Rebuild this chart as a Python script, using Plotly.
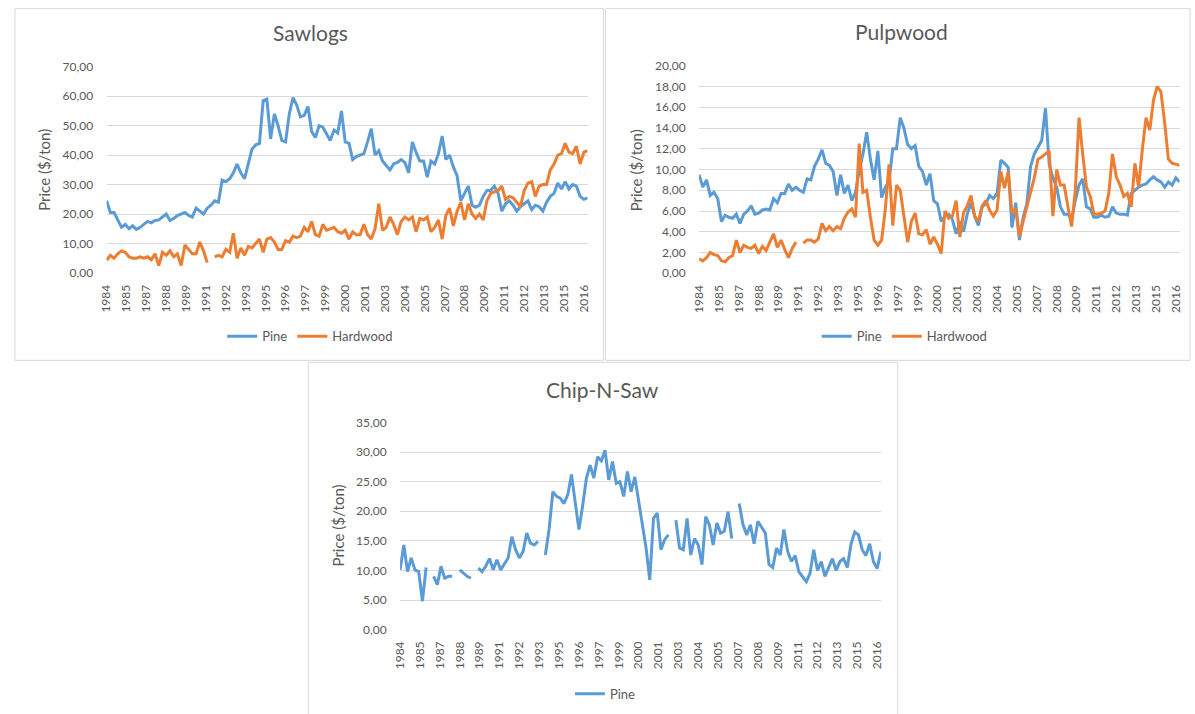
import plotly.graph_objects as go
import pandas as pd

# ---------------- data (quarterly readings, $/ton) ----------------
START = "1984-06-01"
N_PERIODS = 130
TICK_LABELS = ["1984", "1985", "1987", "1988", "1989", "1991", "1992", "1993", "1995",
               "1996", "1997", "1999", "2000", "2001", "2003", "2004", "2005", "2007",
               "2008", "2009", "2011", "2012", "2013", "2015", "2016"]

SAW_PINE = [24.5, 20.5, 20.5, 18.0, 15.5, 16.5, 15.0, 16.0, 14.8, 15.5,
            16.5, 17.5, 17.0, 17.8, 18.0, 19.0, 20.0, 17.8, 18.5, 19.5,
            20.0, 20.5, 19.5, 19.0, 22.0, 21.0, 20.0, 22.0, 23.0, 24.5,
            24.0, 31.5, 31.0, 32.0, 34.0, 37.0, 34.0, 32.0, 37.0, 42.0,
            43.5, 44.0, 58.5, 59.0, 45.5, 54.0, 50.0, 45.0, 44.5, 54.0,
            59.5, 57.0, 53.0, 53.5, 56.5, 48.0, 46.0, 50.0, 49.5, 47.0,
            45.0, 48.5, 47.5, 55.0, 44.5, 44.0, 38.5, 39.5, 40.0, 40.5,
            44.5, 49.0, 40.0, 41.5, 38.0, 36.5, 35.0, 37.0, 37.5, 38.5,
            37.5, 34.0, 44.5, 41.0, 38.0, 38.0, 32.5, 38.0, 37.0, 40.5,
            46.5, 38.5, 40.0, 36.0, 33.0, 24.5, 27.0, 29.5, 23.0, 22.3,
            23.0, 26.0, 28.0, 28.0, 29.5, 27.0, 21.0, 23.5, 24.5, 23.0,
            21.0, 22.5, 23.5, 24.5, 21.5, 23.0, 22.5, 21.0, 24.0, 26.0,
            27.0, 30.5, 28.5, 31.0, 28.5, 30.0, 29.5, 26.0, 25.0, 25.5]

SAW_HARD = [4.3, 6.0, 5.0, 6.5, 7.5, 7.0, 5.5, 5.0, 5.0, 5.5,
            5.0, 5.5, 4.5, 6.5, 2.5, 7.0, 6.0, 7.5, 5.5, 6.5,
            2.5, 9.5, 8.0, 6.5, 6.5, 10.5, 7.5, 3.5, None, 5.5,
            6.0, 5.5, 8.0, 7.0, 13.5, 5.0, 8.5, 6.0, 9.0, 8.5,
            10.0, 11.5, 7.0, 11.5, 12.0, 10.5, 8.0, 8.0, 11.0, 10.5,
            12.5, 12.0, 12.5, 15.5, 14.0, 17.5, 13.0, 12.5, 16.5, 14.5,
            15.0, 15.5, 14.0, 13.5, 14.5, 11.5, 14.0, 13.0, 13.0, 16.5,
            13.0, 11.5, 15.0, 23.5, 14.5, 15.5, 19.0, 16.5, 13.0, 17.5,
            19.0, 18.0, 19.0, 14.0, 18.5, 18.0, 19.0, 14.0, 15.5, 18.0,
            11.5, 19.5, 22.0, 16.0, 21.0, 24.0, 18.0, 23.5, 20.0, 18.5,
            20.0, 18.0, 24.5, 27.0, 27.5, 28.0, 29.5, 25.0, 26.0, 25.5,
            24.0, 22.5, 28.0, 30.5, 31.0, 26.0, 29.5, 30.0, 30.0, 35.0,
            37.0, 40.0, 40.5, 44.0, 41.0, 40.5, 43.0, 37.0, 41.0, 41.5]

PULP_PINE = [9.5, 8.3, 9.0, 7.5, 7.8, 7.2, 5.0, 5.6, 5.4, 5.3,
             5.7, 4.8, 5.7, 6.0, 6.5, 5.7, 5.8, 6.1, 6.2, 6.1,
             7.2, 6.8, 7.7, 7.7, 8.6, 8.0, 8.3, 8.0, 7.8, 9.1,
             9.0, 10.3, 11.0, 11.9, 10.6, 10.4, 9.8, 7.5, 9.5, 7.7,
             8.5, 7.0, 7.8, 9.9, 11.5, 13.6, 11.0, 9.0, 11.8, 7.3,
             8.3, 8.8, 12.0, 12.0, 15.0, 14.0, 12.4, 12.0, 12.3, 10.3,
             9.8, 8.5, 9.6, 7.0, 6.7, 5.0, 5.5, 5.7, 5.2, 3.8,
             5.0, 4.0, 5.7, 6.8, 5.5, 4.6, 6.4, 6.7, 7.5, 7.2,
             7.7, 10.9, 10.6, 10.2, 4.4, 6.8, 3.2, 5.4, 6.7, 10.3,
             11.5, 12.2, 12.8, 15.9, 10.5, 9.2, 8.3, 6.4, 5.7, 5.7,
             5.2, 7.0, 8.5, 9.1, 6.4, 6.2, 5.4, 5.4, 5.6, 5.4,
             5.5, 6.4, 5.8, 5.7, 5.7, 5.6, 7.7, 8.0, 8.3, 8.5,
             8.6, 9.0, 9.3, 9.0, 8.8, 8.3, 8.8, 8.5, 9.2, 8.8]

PULP_HARD = [1.4, 1.2, 1.5, 2.0, 1.8, 1.7, 1.2, 1.1, 1.5, 1.7,
             3.2, 2.0, 2.7, 2.5, 2.4, 2.7, 1.9, 2.6, 2.2, 3.0,
             3.8, 2.5, 3.2, 2.3, 1.5, 2.4, 3.0, None, 2.9, 3.2,
             3.2, 3.0, 3.3, 4.8, 4.1, 4.5, 4.1, 4.5, 4.3, 5.3,
             5.9, 6.2, 5.4, 12.5, 7.8, 8.0, 5.4, 3.2, 2.7, 3.2,
             6.2, 10.5, 4.6, 8.5, 8.0, 5.5, 3.0, 5.0, 5.8, 3.8,
             3.7, 4.2, 2.8, 3.5, 2.8, 1.9, 6.0, 5.3, 5.5, 7.0,
             3.5, 5.8, 6.5, 7.5, 5.5, 5.0, 6.5, 7.0, 6.1, 5.5,
             6.1, 9.8, 8.2, 9.8, 5.8, 6.2, 3.5, 5.0, 6.5, 7.8,
             9.2, 11.0, 11.2, 11.5, 11.8, 5.5, 10.0, 8.5, 8.5, 6.5,
             4.5, 8.0, 15.0, 11.5, 8.3, 7.4, 5.7, 5.7, 5.8, 6.0,
             7.7, 11.5, 9.3, 8.5, 7.4, 7.7, 6.4, 10.6, 8.3, 11.9,
             15.0, 13.8, 16.7, 18.0, 17.5, 14.5, 11.0, 10.6, 10.5, 10.4]

CNS_PINE = [10.1, 14.3, 9.8, 12.1, 10.1, 9.8, 4.8, 10.5, None, 9.0,
            7.6, 10.7, 8.7, 9.0, 9.0, None, 10.1, 9.6, 9.0, 8.7,
            None, 10.4, 9.8, 10.7, 12.0, 10.1, 11.8, 10.1, 11.2, 12.1,
            15.7, 13.5, 12.1, 13.2, 16.3, 14.6, 14.3, 14.9, None, 12.6,
            17.0, 23.3, 22.5, 22.2, 21.3, 22.8, 26.2, 21.5, 16.9, 21.0,
            25.6, 27.8, 25.6, 29.2, 28.5, 30.3, 25.3, 28.4, 24.7, 25.0,
            22.5, 26.7, 23.3, 25.8, 21.9, 18.3, 13.8, 8.4, 18.8, 19.7,
            13.5, 15.2, 16.0, None, 18.5, 13.8, 13.5, 18.8, 12.6, 15.4,
            14.3, 11.0, 19.1, 17.7, 14.3, 18.0, 16.3, 16.6, 19.9, 15.4,
            None, 21.3, 17.8, 16.0, 17.7, 14.5, 18.3, 17.3, 16.3, 11.0,
            10.5, 13.8, 12.6, 16.9, 13.2, 11.5, 12.5, 9.8, 9.0, 8.1,
            9.5, 13.5, 10.0, 11.5, 9.0, 10.5, 12.0, 10.0, 11.5, 12.0,
            10.5, 14.5, 16.5, 16.0, 13.5, 12.5, 14.5, 11.5, 10.3, 13.2]

# ---------------- styling ----------------
W, H = 1195, 714
BLUE = "#5B9BD5"
ORANGE = "#ED7D31"
GRID = "#D9D9D9"
TXT = "#595959"
FONT = "Lato, Carlito, 'Liberation Sans', sans-serif"

# the captured page is mapped vertically as  shown_y = 8 + 0.978 * page_y
Y_OFF, Y_SCALE = 8.0, 0.978


def fx(x):
    return x / W


def fy(y):
    return 1 - ((y - Y_OFF) / Y_SCALE) / H


DATES = pd.date_range(START, periods=N_PERIODS, freq="3MS").strftime("%Y-%m-%d").tolist()
TICK_DATES = pd.date_range(START, periods=len(TICK_LABELS), freq="16MS").strftime("%Y-%m-%d").tolist()

fig = go.Figure()


def add_line(y, name, color, ax, leg):
    fig.add_trace(go.Scatter(
        x=DATES, y=y, name=name, mode="lines",
        line=dict(color=color, width=3),
        xaxis="x" + ax, yaxis="y" + ax, legend=leg,
        connectgaps=False, hoverinfo="skip"))


add_line(SAW_PINE, "Pine", BLUE, "", "legend")
add_line(SAW_HARD, "Hardwood", ORANGE, "", "legend")
add_line(PULP_PINE, "Pine", BLUE, "2", "legend2")
add_line(PULP_HARD, "Hardwood", ORANGE, "2", "legend2")
add_line(CNS_PINE, "Pine", BLUE, "3", "legend3")


def xaxis_cfg(x0, x1, anchor):
    return dict(domain=[fx(x0), fx(x1)], anchor=anchor, type="date",
                range=[DATES[0], DATES[-1]], tickmode="array",
                tickvals=TICK_DATES, ticktext=TICK_LABELS, tickangle=-90,
                showgrid=False, zeroline=False, showline=False,
                ticks="outside", ticklen=6, tickcolor="rgba(0,0,0,0)",
                tickfont=dict(family=FONT, size=12, color=TXT), fixedrange=True)


def yaxis_cfg(y0, y1, anchor, top, step):
    return dict(domain=[fy(y1), fy(y0)], anchor=anchor, range=[0, top], dtick=step,
                tick0=0, tickformat=".2f", showgrid=True, gridcolor=GRID, gridwidth=1,
                zeroline=False, showline=False, ticks="outside", ticklen=10,
                tickcolor="rgba(0,0,0,0)",
                tickfont=dict(family=FONT, size=12, color=TXT), fixedrange=True)


def legend_cfg(x, y):
    return dict(x=fx(x), y=fy(y), xanchor="center", yanchor="middle",
                orientation="h", bgcolor="rgba(0,0,0,0)",
                font=dict(family=FONT, size=13, color=TXT),
                itemwidth=30, tracegroupgap=0)


panels = [(7, 8.6, 601, 360), (603, 8.6, 1193, 360), (303, 362, 898, 740)]
shapes = [dict(type="rect", xref="paper", yref="paper",
               x0=fx(a), x1=fx(c), y0=fy(d), y1=fy(b),
               line=dict(color=GRID, width=1), fillcolor="rgba(0,0,0,0)", layer="below")
          for a, b, c, d in panels]

titles = [("Sawlogs", 305, 32), ("Pulpwood", 902, 31), ("Chip-N-Saw", 600, 389)]
annotations = [dict(text=t, x=fx(x), y=fy(y), xref="paper", yref="paper",
                    showarrow=False, xanchor="center", yanchor="middle",
                    font=dict(family=FONT, size=21, color=TXT))
               for t, x, y in titles]
ytitles = [(37, 170), (634, 170), (333, 525)]
annotations += [dict(text="Price ($/ton)", x=fx(x), y=fy(y), xref="paper", yref="paper",
                     showarrow=False, textangle=-90, xanchor="center", yanchor="middle",
                     font=dict(family=FONT, size=15, color=TXT))
                for x, y in ytitles]

fig.update_layout(
    width=W, height=H, autosize=False,
    margin=dict(l=0, r=0, t=0, b=0, pad=0),
    paper_bgcolor="white", plot_bgcolor="white",
    separators=",.",
    font=dict(family=FONT, color=TXT),
    xaxis=xaxis_cfg(99.5, 585, "y"),
    yaxis=yaxis_cfg(66.7, 272.7, "x", 70, 10),
    xaxis2=xaxis_cfg(697.5, 1182.5, "y2"),
    yaxis2=yaxis_cfg(65.7, 273, "x2", 20, 2),
    xaxis3=xaxis_cfg(395.7, 881, "y3"),
    yaxis3=yaxis_cfg(422, 629, "x3", 35, 5),
    legend=legend_cfg(305, 336),
    legend2=legend_cfg(905, 336),
    legend3=legend_cfg(603, 693),
    shapes=shapes,
    annotations=annotations,
    showlegend=True,
)

fig.write_html("out.html", config={"displayModeBar": False, "staticPlot": True},
               post_script="document.body.style.margin='0';document.body.style.overflow='hidden';")
